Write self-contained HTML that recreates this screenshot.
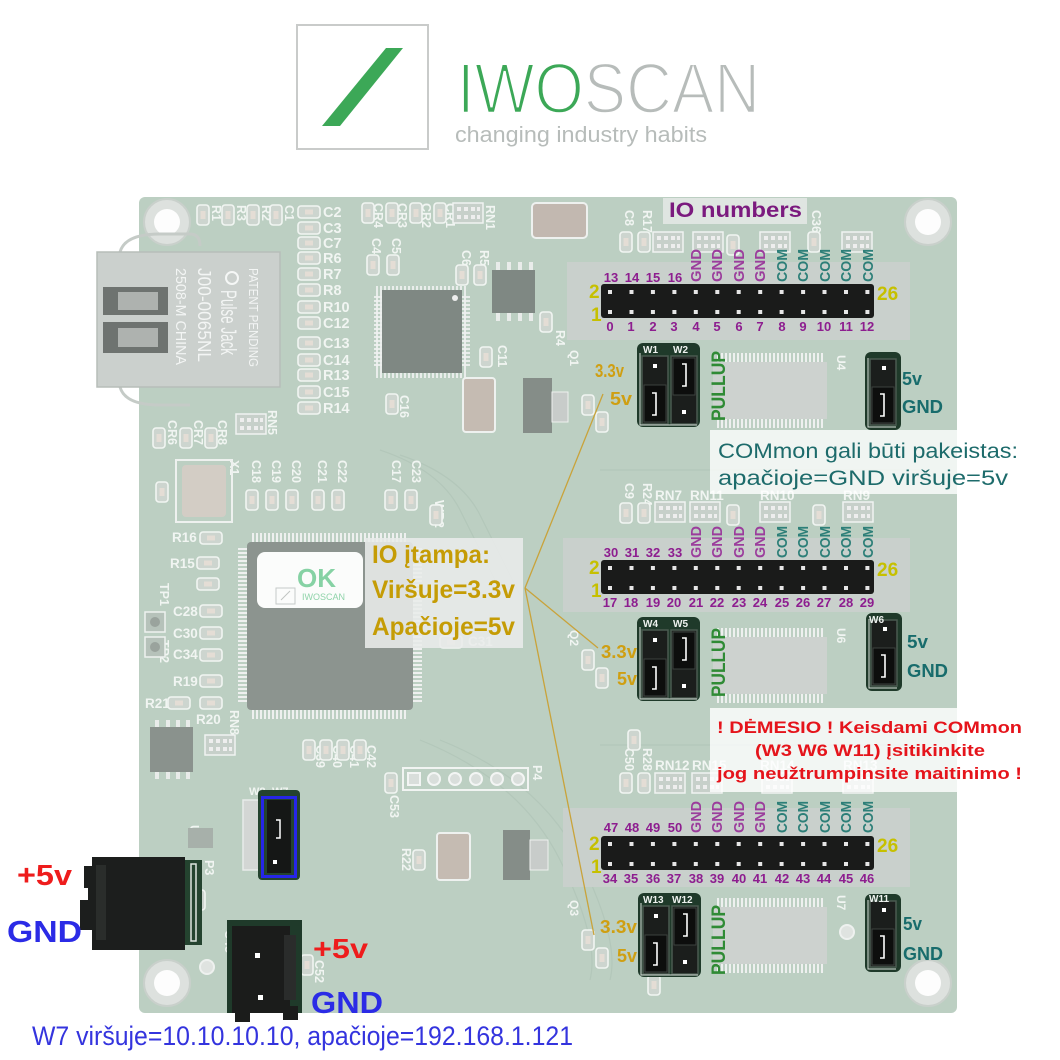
<!DOCTYPE html>
<html><head><meta charset="utf-8"><style>
html,body{margin:0;padding:0;background:#fff;width:1060px;height:1060px;overflow:hidden}
svg{display:block}
</style></head><body>
<svg width="1060" height="1060" viewBox="0 0 1060 1060" xmlns="http://www.w3.org/2000/svg" font-family="'Liberation Sans', Arial, sans-serif">
<defs>
  <pattern id="pv" width="4" height="10" patternUnits="userSpaceOnUse"><rect width="2" height="10" fill="#eef0ef"/></pattern>
  <pattern id="ph" width="10" height="4" patternUnits="userSpaceOnUse"><rect width="10" height="2" fill="#eef0ef"/></pattern>
  <g id="padv"><rect x="0" y="0" width="12" height="20" rx="3" fill="#cdd5cf" stroke="#f1f5f2" stroke-width="1.6"/><rect x="3.5" y="6" width="5" height="8" fill="#e4ddd5"/></g>
  <g id="padh"><rect x="0" y="0" width="22" height="12" rx="3" fill="#cdd5cf" stroke="#f1f5f2" stroke-width="1.6"/><rect x="7" y="3.5" width="8" height="5" fill="#e4ddd5"/></g>
  <g id="rn"><rect x="0" y="0" width="30" height="20" fill="#c7d0ca" stroke="#f0f3f1" stroke-width="1.5"/><rect x="4" y="4" width="4" height="4" fill="#eee"/><rect x="11" y="4" width="4" height="4" fill="#eee"/><rect x="18" y="4" width="4" height="4" fill="#eee"/><rect x="24" y="4" width="3" height="4" fill="#eee"/><rect x="4" y="12" width="4" height="4" fill="#eee"/><rect x="11" y="12" width="4" height="4" fill="#eee"/><rect x="18" y="12" width="4" height="4" fill="#eee"/><rect x="24" y="12" width="3" height="4" fill="#eee"/></g>
  <g id="hole"><circle r="23" fill="#dde1de" stroke="#c9d0cb" stroke-width="2"/><circle r="13" fill="#fdfdfd"/></g>
  <g id="jpair">
    <rect x="0" y="0" width="63" height="84" rx="6" fill="#1f3a2a"/>
    <rect x="5" y="13" width="26" height="68" fill="#1b1e1c" stroke="#4a5a50" stroke-width="1.5"/>
    <rect x="34" y="13" width="26" height="68" fill="#1b1e1c" stroke="#4a5a50" stroke-width="1.5"/>
    <rect x="16" y="21" width="4" height="4" fill="#fff"/>
    <rect x="7" y="42" width="22" height="37" fill="#0d0e0d" stroke="#3c423e"/>
    <path d="M15 50 h4 v22 h-4" fill="none" stroke="#fff" stroke-width="1.6"/>
    <rect x="36" y="15" width="22" height="37" fill="#0d0e0d" stroke="#3c423e"/>
    <path d="M45 21 h4 v22 h-4" fill="none" stroke="#fff" stroke-width="1.6"/>
    <rect x="45" y="67" width="4" height="4" fill="#fff"/>
    <path d="M3 10 v72 h57" fill="none" stroke="#d8e0da" stroke-width="1"/>
  </g>
  <g id="jsingle">
    <rect x="0" y="0" width="36" height="78" rx="6" fill="#1f3a2a"/>
    <rect x="5" y="7" width="26" height="66" fill="#1b1e1c" stroke="#4a5a50" stroke-width="1.5"/>
    <rect x="17" y="14" width="4" height="4" fill="#fff"/>
    <rect x="7" y="35" width="22" height="36" fill="#0d0e0d" stroke="#3c423e"/>
    <path d="M15 42 h4 v22 h-4" fill="none" stroke="#fff" stroke-width="1.6"/>
    <path d="M3 6 v69 h28" fill="none" stroke="#d8e0da" stroke-width="1"/>
  </g>
  <g id="hdr">
    <rect x="0" y="0" width="273" height="34" rx="3" fill="#1a1b1a"/>
    <g fill="#e6e6e6">
      <rect x="7" y="6" width="4" height="4"/><rect x="28.5" y="6" width="4" height="4"/><rect x="49.9" y="6" width="4" height="4"/><rect x="71.4" y="6" width="4" height="4"/><rect x="92.8" y="6" width="4" height="4"/><rect x="114.3" y="6" width="4" height="4"/><rect x="135.7" y="6" width="4" height="4"/><rect x="157.2" y="6" width="4" height="4"/><rect x="178.6" y="6" width="4" height="4"/><rect x="200.1" y="6" width="4" height="4"/><rect x="221.5" y="6" width="4" height="4"/><rect x="243" y="6" width="4" height="4"/><rect x="264.4" y="6" width="4" height="4"/>
      <rect x="7" y="26" width="4" height="4"/><rect x="28.5" y="26" width="4" height="4"/><rect x="49.9" y="26" width="4" height="4"/><rect x="71.4" y="26" width="4" height="4"/><rect x="92.8" y="26" width="4" height="4"/><rect x="114.3" y="26" width="4" height="4"/><rect x="135.7" y="26" width="4" height="4"/><rect x="157.2" y="26" width="4" height="4"/><rect x="178.6" y="26" width="4" height="4"/><rect x="200.1" y="26" width="4" height="4"/><rect x="221.5" y="26" width="4" height="4"/><rect x="243" y="26" width="4" height="4"/><rect x="264.4" y="26" width="4" height="4"/>
    </g>
  </g>
  <g id="tssop">
    <rect x="0" y="9" width="114" height="57" fill="#cdd2cf"/>
    <rect x="2" y="0" width="110" height="9" fill="url(#pv)"/>
    <rect x="2" y="66" width="110" height="9" fill="url(#pv)"/>
  </g>
</defs>

<!-- LOGO -->
<rect x="297" y="25" width="131" height="124" fill="#fff" stroke="#c9cbca" stroke-width="2"/>
<polygon points="386,48 403,48 340,126 322,126" fill="#3ca857"/>
<text x="457" y="113" font-size="71" textLength="303" lengthAdjust="spacingAndGlyphs" stroke="#fff" stroke-width="2.4"><tspan fill="#3ca857">IWO</tspan><tspan fill="#b7bcba">SCAN</tspan></text>
<text x="455" y="142" font-size="22" fill="#b7bcba" textLength="252" lengthAdjust="spacingAndGlyphs">changing industry habits</text>

<!-- BOARD -->
<rect x="139" y="197" width="818" height="816" rx="6" fill="#bccfc2"/>
<g fill="none" stroke="#b3c7ba" stroke-width="1.2">
  <path d="M380 450 q60 20 80 60 t40 80"/>
  <path d="M400 455 q60 20 80 60 t40 80"/>
  <path d="M420 740 q100 40 140 120 t30 120"/>
  <path d="M440 740 q100 40 140 120 t30 120"/>
  <path d="M600 470 h320"/><path d="M600 745 h320"/>
</g>

<use href="#hole" x="167" y="222"/>
<use href="#hole" x="928" y="222"/>
<use href="#hole" x="928" y="983"/>
<use href="#hole" x="167" y="983"/>
<circle cx="207" cy="967" r="7" fill="#dfe3e0" stroke="#eef1ef" stroke-width="2"/>
<circle cx="847" cy="932" r="7" fill="#dfe3e0" stroke="#eef1ef" stroke-width="2"/>

<!-- Ethernet jack -->
<path d="M120 252 q5 -18 40 -18 h30 q10 0 10 12" fill="none" stroke="#c5cbc7" stroke-width="3"/>
<path d="M120 387 q5 18 40 18 h30" fill="none" stroke="#c5cbc7" stroke-width="3"/>
<rect x="97" y="252" width="183" height="135" fill="#cbd0cd" stroke="#b7bdb9" stroke-width="1.5"/>
<rect x="103" y="287" width="65" height="28" fill="#6e7370"/>
<rect x="118" y="292" width="40" height="18" fill="#aeb2af"/>
<rect x="103" y="322" width="65" height="31" fill="#6e7370"/>
<rect x="118" y="328" width="40" height="19" fill="#aeb2af"/>
<circle cx="232" cy="278" r="6" fill="none" stroke="#f5f7f6" stroke-width="2"/>
<g fill="#f3f5f4">
<text transform="translate(249,268) rotate(90)" font-size="13" textLength="99" lengthAdjust="spacingAndGlyphs">PATENT PENDING</text>
<text transform="translate(221,290) rotate(90)" font-size="22" textLength="65" lengthAdjust="spacingAndGlyphs">Pulse Jack</text>
<text transform="translate(198,268) rotate(90)" font-size="18" textLength="94" lengthAdjust="spacingAndGlyphs">J00-0065NL</text>
<text transform="translate(176,268) rotate(90)" font-size="15" textLength="97" lengthAdjust="spacingAndGlyphs">2508-M CHINA</text>
</g>

<!-- silkscreen left column -->
<g>
<use href="#padh" x="298" y="206"/><use href="#padh" x="298" y="222"/><use href="#padh" x="298" y="237"/><use href="#padh" x="298" y="252"/><use href="#padh" x="298" y="268"/><use href="#padh" x="298" y="284"/><use href="#padh" x="298" y="301"/><use href="#padh" x="298" y="317"/><use href="#padh" x="298" y="337"/><use href="#padh" x="298" y="354"/><use href="#padh" x="298" y="369"/><use href="#padh" x="298" y="386"/><use href="#padh" x="298" y="402"/>
</g>
<g fill="#f1f5f2" font-size="14.5" font-weight="bold">
<text x="323" y="217">C2</text><text x="323" y="233">C3</text><text x="323" y="248">C7</text><text x="323" y="263">R6</text><text x="323" y="279">R7</text><text x="323" y="295">R8</text><text x="323" y="312">R10</text><text x="323" y="328">C12</text><text x="323" y="348">C13</text><text x="323" y="365">C14</text><text x="323" y="380">R13</text><text x="323" y="397">C15</text><text x="323" y="413">R14</text>
</g>
<use href="#padv" x="197" y="205"/><use href="#padv" x="222" y="205"/><use href="#padv" x="247" y="205"/><use href="#padv" x="270" y="205"/>
<g fill="#f1f5f2" font-size="12.5" font-weight="bold">
<text transform="translate(212,205) rotate(90)">R1</text><text transform="translate(237,205) rotate(90)">R3</text><text transform="translate(262,205) rotate(90)">R2</text><text transform="translate(285,205) rotate(90)">C1</text>
<text transform="translate(374,203) rotate(90)">CR4</text><text transform="translate(398,203) rotate(90)">CR3</text><text transform="translate(422,203) rotate(90)">CR2</text><text transform="translate(446,203) rotate(90)">CR1</text>
<text transform="translate(486,205) rotate(90)">RN1</text>
<text transform="translate(372,238) rotate(90)">C4</text><text transform="translate(392,238) rotate(90)">C5</text>
<text transform="translate(462,250) rotate(90)">C6</text><text transform="translate(480,250) rotate(90)">R5</text>
<text transform="translate(556,330) rotate(90)">R4</text><text transform="translate(498,345) rotate(90)">C11</text>
<text transform="translate(400,395) rotate(90)">C16</text>
<text transform="translate(268,410) rotate(90)">RN5</text>
<text transform="translate(168,420) rotate(90)">CR6</text><text transform="translate(194,420) rotate(90)">CR7</text><text transform="translate(218,420) rotate(90)">CR8</text>
<text transform="translate(230,460) rotate(90)">X1</text>
<text transform="translate(252,460) rotate(90)">C18</text><text transform="translate(272,460) rotate(90)">C19</text><text transform="translate(292,460) rotate(90)">C20</text><text transform="translate(318,460) rotate(90)">C21</text><text transform="translate(338,460) rotate(90)">C22</text>
<text transform="translate(392,460) rotate(90)">C17</text><text transform="translate(412,460) rotate(90)">C23</text>
<text transform="translate(625,210) rotate(90)">C8</text><text transform="translate(643,210) rotate(90)">R17</text><text transform="translate(812,210) rotate(90)">C36</text>
<text transform="translate(625,483) rotate(90)">C9</text><text transform="translate(643,483) rotate(90)">R24</text>
<text transform="translate(625,748) rotate(90)">C50</text><text transform="translate(643,748) rotate(90)">R28</text>
<text transform="translate(435,500) rotate(90)">WR2</text>
<text transform="translate(225,930) rotate(90)">C45</text><text transform="translate(205,860) rotate(90)">P3</text><text transform="translate(290,920) rotate(90)">P5</text><text transform="translate(315,960) rotate(90)">C52</text>
<text transform="translate(316,745) rotate(90)">C39</text><text transform="translate(333,745) rotate(90)">C40</text><text transform="translate(350,745) rotate(90)">C41</text><text transform="translate(367,745) rotate(90)">C42</text>
<text transform="translate(390,795) rotate(90)">C53</text><text transform="translate(402,848) rotate(90)">R22</text><text transform="translate(533,765) rotate(90)">P4</text>
<text transform="translate(160,583) rotate(90)">TP1</text><text transform="translate(160,640) rotate(90)">TP2</text>
<text transform="translate(230,710) rotate(90)">RN8</text><text transform="translate(190,825) rotate(90)">U8</text>
</g>
<g fill="#f1f5f2" font-size="13.5" font-weight="bold">
<text x="172" y="542">R16</text><text x="170" y="568">R15</text><text x="173" y="616">C28</text><text x="173" y="638">C30</text><text x="173" y="659">C34</text><text x="173" y="686">R19</text><text x="145" y="708">R21</text><text x="196" y="724">R20</text>
<text x="468" y="646">C31</text>
<text x="655" y="500">RN7</text><text x="690" y="500">RN11</text><text x="760" y="500">RN10</text><text x="843" y="500">RN9</text>
<text x="655" y="770">RN12</text><text x="692" y="770">RN15</text><text x="760" y="770">RN14</text><text x="843" y="770">RN13</text>
<text x="249" y="795" font-size="11">W8</text><text x="272" y="795" font-size="11">W7</text>
</g>
<g>
<use href="#padv" x="367" y="255"/><use href="#padv" x="387" y="255"/><use href="#padv" x="456" y="265"/><use href="#padv" x="474" y="265"/>
<use href="#padv" x="362" y="203"/><use href="#padv" x="386" y="203"/><use href="#padv" x="410" y="203"/><use href="#padv" x="434" y="203"/>
<use href="#rn" x="453" y="203"/>
<use href="#padv" x="540" y="312"/><use href="#padv" x="480" y="347"/><use href="#padv" x="386" y="394"/>
<use href="#rn" x="236" y="414"/>
<use href="#padv" x="153" y="428"/><use href="#padv" x="180" y="428"/><use href="#padv" x="205" y="428"/>
<use href="#padv" x="246" y="490"/><use href="#padv" x="266" y="490"/><use href="#padv" x="286" y="490"/><use href="#padv" x="312" y="490"/><use href="#padv" x="332" y="490"/><use href="#padv" x="385" y="490"/><use href="#padv" x="405" y="490"/>
<use href="#padv" x="430" y="505"/>
<use href="#padv" x="156" y="482"/>
<use href="#padh" x="200" y="532"/><use href="#padh" x="197" y="557"/><use href="#padh" x="197" y="578"/><use href="#padh" x="200" y="605"/><use href="#padh" x="200" y="627"/><use href="#padh" x="200" y="649"/><use href="#padh" x="200" y="675"/><use href="#padh" x="168" y="697"/><use href="#padh" x="200" y="697"/>
<use href="#padh" x="440" y="636"/>
<use href="#padv" x="620" y="232"/><use href="#padv" x="638" y="232"/><use href="#rn" x="653" y="232"/><use href="#rn" x="693" y="232"/><use href="#padv" x="727" y="235"/><use href="#rn" x="760" y="232"/><use href="#padv" x="808" y="232"/><use href="#rn" x="842" y="232"/>
<use href="#padv" x="620" y="503"/><use href="#padv" x="638" y="503"/><use href="#rn" x="655" y="502"/><use href="#rn" x="690" y="502"/><use href="#padv" x="727" y="505"/><use href="#rn" x="760" y="502"/><use href="#padv" x="813" y="505"/><use href="#rn" x="843" y="502"/>
<use href="#padv" x="620" y="773"/><use href="#padv" x="638" y="773"/><use href="#rn" x="655" y="773"/><use href="#rn" x="692" y="773"/><use href="#rn" x="762" y="773"/><use href="#rn" x="843" y="773"/>
<use href="#padv" x="303" y="740"/><use href="#padv" x="320" y="740"/><use href="#padv" x="337" y="740"/><use href="#padv" x="354" y="740"/>
<use href="#padv" x="385" y="773"/><use href="#padv" x="413" y="850"/>
<use href="#padv" x="193" y="890"/><use href="#padv" x="301" y="955"/>
<use href="#rn" x="205" y="735"/>
<use href="#padv" x="582" y="395"/><use href="#padv" x="596" y="412"/><use href="#padv" x="582" y="650"/><use href="#padv" x="596" y="668"/><use href="#padv" x="582" y="930"/><use href="#padv" x="596" y="948"/>
<use href="#padv" x="648" y="975"/><use href="#padv" x="628" y="730"/>
</g>
<rect x="145" y="612" width="20" height="20" fill="#b6c2ba" stroke="#eef2ef" stroke-width="1.5"/><circle cx="155" cy="622" r="5" fill="#9aa39d"/>
<rect x="145" y="637" width="20" height="20" fill="#b6c2ba" stroke="#eef2ef" stroke-width="1.5"/><circle cx="155" cy="647" r="5" fill="#9aa39d"/>

<!-- small ICs -->
<rect x="376" y="286" width="92" height="92" fill="url(#pv)" opacity="0.9"/>
<rect x="382" y="290" width="80" height="83" fill="#7f8883"/>
<rect x="374" y="296" width="96" height="72" fill="url(#ph)" opacity="0.9"/>
<rect x="382" y="294" width="80" height="76" fill="#7f8883"/>
<circle cx="455" cy="298" r="3" fill="#eee"/>
<rect x="492" y="270" width="43" height="43" fill="#7f8883"/>
<g fill="#e9ecea"><rect x="496" y="262" width="4" height="8"/><rect x="507" y="262" width="4" height="8"/><rect x="518" y="262" width="4" height="8"/><rect x="529" y="262" width="4" height="8"/><rect x="496" y="313" width="4" height="8"/><rect x="507" y="313" width="4" height="8"/><rect x="518" y="313" width="4" height="8"/><rect x="529" y="313" width="4" height="8"/></g>
<rect x="532" y="203" width="55" height="35" rx="4" fill="#c2b8b0" stroke="#eef1ef" stroke-width="2"/>
<rect x="463" y="378" width="32" height="54" rx="3" fill="#c5bbb2" stroke="#eef1ef" stroke-width="2"/>
<rect x="523" y="378" width="29" height="55" fill="#858d88"/>
<rect x="552" y="392" width="16" height="30" fill="#c8ccca" stroke="#eef1ef"/>
<rect x="437" y="833" width="33" height="47" rx="3" fill="#c5bbb2" stroke="#eef1ef" stroke-width="2"/>
<rect x="503" y="830" width="27" height="50" fill="#858d88"/>
<rect x="530" y="840" width="18" height="30" fill="#c8ccca" stroke="#eef1ef"/>
<!-- crystal -->
<rect x="176" y="460" width="56" height="62" fill="none" stroke="#eef1ef" stroke-width="2"/>
<rect x="182" y="465" width="44" height="52" rx="4" fill="#d3cdc5"/>
<!-- big QFP -->
<rect x="252" y="533" width="156" height="186" fill="url(#pv)"/>
<rect x="238" y="548" width="184" height="156" fill="url(#ph)"/>
<rect x="247" y="542" width="166" height="168" rx="4" fill="#8c948f"/>
<rect x="257" y="552" width="106" height="56" rx="8" fill="#fbfcfb"/>
<text x="297" y="587" font-size="26" font-weight="bold" fill="#86d2a4">OK</text>
<rect x="276" y="588" width="19" height="16" fill="none" stroke="#c6cac8" stroke-width="1"/>
<line x1="281" y1="600" x2="290" y2="591" stroke="#bfc4c1"/>
<text x="302" y="600" font-size="9" fill="#8ed3a9">IWOSCAN</text>
<rect x="150" y="727" width="43" height="45" fill="#8a928d"/>
<g fill="#e9ecea"><rect x="155" y="720" width="4" height="7"/><rect x="166" y="720" width="4" height="7"/><rect x="176" y="720" width="4" height="7"/><rect x="186" y="720" width="4" height="7"/><rect x="155" y="772" width="4" height="7"/><rect x="166" y="772" width="4" height="7"/><rect x="176" y="772" width="4" height="7"/><rect x="186" y="772" width="4" height="7"/></g>
<rect x="403" y="768" width="125" height="22" fill="none" stroke="#f1f4f2" stroke-width="2"/>
<g fill="#d9dedb" stroke="#f3f5f4" stroke-width="2"><rect x="408" y="773" width="12" height="12"/><circle cx="434" cy="779" r="6"/><circle cx="455" cy="779" r="6"/><circle cx="476" cy="779" r="6"/><circle cx="497" cy="779" r="6"/><circle cx="518" cy="779" r="6"/></g>
<rect x="188" y="828" width="25" height="20" fill="#a7b0aa"/>

<!-- header backdrops -->
<rect x="567" y="262" width="343" height="78" fill="#c9d0cc"/>
<rect x="563" y="538" width="347" height="74" fill="#c9d0cc"/>
<rect x="563" y="808" width="347" height="79" fill="#c9d0cc"/>

<use href="#tssop" x="713" y="353"/>
<use href="#tssop" x="713" y="628"/>
<use href="#tssop" x="713" y="898"/>
<g fill="#f1f5f2" font-size="12" font-weight="bold">
<text transform="translate(837,355) rotate(90)">U4</text><text transform="translate(837,628) rotate(90)">U6</text><text transform="translate(837,895) rotate(90)">U7</text>
<text transform="translate(570,350) rotate(90)">Q1</text><text transform="translate(570,630) rotate(90)">Q2</text><text transform="translate(570,900) rotate(90)">Q3</text>
</g>

<use href="#hdr" x="601" y="284"/>
<use href="#hdr" x="601" y="560"/>
<use href="#hdr" x="601" y="836"/>

<g font-weight="bold" fill="#c6c000" font-size="19">
<text x="589" y="298">2</text><text x="591" y="321">1</text><text x="877" y="300">26</text>
<text x="589" y="574">2</text><text x="591" y="597">1</text><text x="877" y="576">26</text>
<text x="589" y="850">2</text><text x="591" y="873">1</text><text x="877" y="852">26</text>
</g>
<g font-weight="bold" fill="#8d1d8f" font-size="13" text-anchor="middle">
<text x="611" y="282">13</text><text x="632" y="282">14</text><text x="653" y="282">15</text><text x="675" y="282">16</text>
<text x="610" y="331">0</text><text x="631" y="331">1</text><text x="653" y="331">2</text><text x="674" y="331">3</text><text x="696" y="331">4</text><text x="717" y="331">5</text><text x="739" y="331">6</text><text x="760" y="331">7</text><text x="782" y="331">8</text><text x="803" y="331">9</text><text x="824" y="331">10</text><text x="846" y="331">11</text><text x="867" y="331">12</text>
<text x="611" y="557">30</text><text x="632" y="557">31</text><text x="653" y="557">32</text><text x="675" y="557">33</text>
<text x="610" y="607">17</text><text x="631" y="607">18</text><text x="653" y="607">19</text><text x="674" y="607">20</text><text x="696" y="607">21</text><text x="717" y="607">22</text><text x="739" y="607">23</text><text x="760" y="607">24</text><text x="782" y="607">25</text><text x="803" y="607">26</text><text x="824" y="607">27</text><text x="846" y="607">28</text><text x="867" y="607">29</text>
<text x="611" y="832">47</text><text x="632" y="832">48</text><text x="653" y="832">49</text><text x="675" y="832">50</text>
<text x="610" y="883">34</text><text x="631" y="883">35</text><text x="653" y="883">36</text><text x="674" y="883">37</text><text x="696" y="883">38</text><text x="717" y="883">39</text><text x="739" y="883">40</text><text x="760" y="883">41</text><text x="782" y="883">42</text><text x="803" y="883">43</text><text x="824" y="883">44</text><text x="846" y="883">45</text><text x="867" y="883">46</text>
</g>
<g font-weight="bold" font-size="14.5">
<g fill="#9b3d9c">
<text transform="translate(701,282) rotate(-90)" textLength="33" lengthAdjust="spacingAndGlyphs">GND</text><text transform="translate(722,282) rotate(-90)" textLength="33" lengthAdjust="spacingAndGlyphs">GND</text><text transform="translate(744,282) rotate(-90)" textLength="33" lengthAdjust="spacingAndGlyphs">GND</text><text transform="translate(765,282) rotate(-90)" textLength="33" lengthAdjust="spacingAndGlyphs">GND</text>
<text transform="translate(701,558) rotate(-90)" textLength="32" lengthAdjust="spacingAndGlyphs">GND</text><text transform="translate(722,558) rotate(-90)" textLength="32" lengthAdjust="spacingAndGlyphs">GND</text><text transform="translate(744,558) rotate(-90)" textLength="32" lengthAdjust="spacingAndGlyphs">GND</text><text transform="translate(765,558) rotate(-90)" textLength="32" lengthAdjust="spacingAndGlyphs">GND</text>
<text transform="translate(701,833) rotate(-90)" textLength="32" lengthAdjust="spacingAndGlyphs">GND</text><text transform="translate(722,833) rotate(-90)" textLength="32" lengthAdjust="spacingAndGlyphs">GND</text><text transform="translate(744,833) rotate(-90)" textLength="32" lengthAdjust="spacingAndGlyphs">GND</text><text transform="translate(765,833) rotate(-90)" textLength="32" lengthAdjust="spacingAndGlyphs">GND</text>
</g>
<g fill="#2d7f78">
<text transform="translate(787,282) rotate(-90)" textLength="33" lengthAdjust="spacingAndGlyphs">COM</text><text transform="translate(808,282) rotate(-90)" textLength="33" lengthAdjust="spacingAndGlyphs">COM</text><text transform="translate(830,282) rotate(-90)" textLength="33" lengthAdjust="spacingAndGlyphs">COM</text><text transform="translate(851,282) rotate(-90)" textLength="33" lengthAdjust="spacingAndGlyphs">COM</text><text transform="translate(873,282) rotate(-90)" textLength="33" lengthAdjust="spacingAndGlyphs">COM</text>
<text transform="translate(787,558) rotate(-90)" textLength="32" lengthAdjust="spacingAndGlyphs">COM</text><text transform="translate(808,558) rotate(-90)" textLength="32" lengthAdjust="spacingAndGlyphs">COM</text><text transform="translate(830,558) rotate(-90)" textLength="32" lengthAdjust="spacingAndGlyphs">COM</text><text transform="translate(851,558) rotate(-90)" textLength="32" lengthAdjust="spacingAndGlyphs">COM</text><text transform="translate(873,558) rotate(-90)" textLength="32" lengthAdjust="spacingAndGlyphs">COM</text>
<text transform="translate(787,833) rotate(-90)" textLength="32" lengthAdjust="spacingAndGlyphs">COM</text><text transform="translate(808,833) rotate(-90)" textLength="32" lengthAdjust="spacingAndGlyphs">COM</text><text transform="translate(830,833) rotate(-90)" textLength="32" lengthAdjust="spacingAndGlyphs">COM</text><text transform="translate(851,833) rotate(-90)" textLength="32" lengthAdjust="spacingAndGlyphs">COM</text><text transform="translate(873,833) rotate(-90)" textLength="32" lengthAdjust="spacingAndGlyphs">COM</text>
</g>
</g>

<rect x="663" y="198" width="144" height="26" fill="#dfe5e1"/>
<text x="669" y="217" font-size="21" font-weight="bold" fill="#7b1a7e" textLength="133" lengthAdjust="spacingAndGlyphs">IO numbers</text>

<use href="#jpair" x="637" y="343"/>
<use href="#jsingle" x="865" y="352"/>
<use href="#jpair" x="637" y="617"/>
<use href="#jsingle" x="866" y="613"/>
<use href="#jpair" x="638" y="893"/>
<use href="#jsingle" x="865" y="894"/>
<g fill="#eef2ef" font-size="10" font-weight="bold">
<text x="643" y="353">W1</text><text x="673" y="353">W2</text>
<text x="643" y="627">W4</text><text x="673" y="627">W5</text>
<text x="643" y="903">W13</text><text x="672" y="903">W12</text>
<text x="869" y="623">W6</text><text x="869" y="902">W11</text>
</g>
<g font-weight="bold">
<g fill="#cf9f12" font-size="18">
<text x="595" y="377" textLength="29" lengthAdjust="spacingAndGlyphs">3.3v</text><text x="610" y="405" textLength="22" lengthAdjust="spacingAndGlyphs">5v</text>
<text x="601" y="658" textLength="36" lengthAdjust="spacingAndGlyphs">3.3v</text><text x="617" y="685" textLength="20" lengthAdjust="spacingAndGlyphs">5v</text>
<text x="600" y="933" textLength="37" lengthAdjust="spacingAndGlyphs">3.3v</text><text x="617" y="962" textLength="20" lengthAdjust="spacingAndGlyphs">5v</text>
</g>
<g fill="#2f8b35" font-size="19">
<text transform="translate(725,421) rotate(-90)" textLength="70" lengthAdjust="spacingAndGlyphs">PULLUP</text>
<text transform="translate(725,697) rotate(-90)" textLength="69" lengthAdjust="spacingAndGlyphs">PULLUP</text>
<text transform="translate(725,975) rotate(-90)" textLength="70" lengthAdjust="spacingAndGlyphs">PULLUP</text>
</g>
<g fill="#186c6c" font-size="18">
<text x="902" y="385" textLength="20" lengthAdjust="spacingAndGlyphs">5v</text><text x="902" y="413" textLength="41" lengthAdjust="spacingAndGlyphs">GND</text>
<text x="907" y="648" textLength="21" lengthAdjust="spacingAndGlyphs">5v</text><text x="907" y="677" textLength="41" lengthAdjust="spacingAndGlyphs">GND</text>
<text x="903" y="930" textLength="19" lengthAdjust="spacingAndGlyphs">5v</text><text x="903" y="960" textLength="40" lengthAdjust="spacingAndGlyphs">GND</text>
</g>
</g>

<rect x="710" y="430" width="315" height="64" fill="#ffffff" opacity="0.78"/>
<g fill="#1d6b6b" font-size="21">
<text x="718" y="458" textLength="300" lengthAdjust="spacingAndGlyphs">COMmon gali būti pakeistas:</text>
<text x="718" y="485" textLength="290" lengthAdjust="spacingAndGlyphs">apačioje=GND viršuje=5v</text>
</g>

<rect x="710" y="708" width="318" height="84" fill="#ffffff" opacity="0.8"/>
<g fill="#e5141b" font-size="17" font-weight="bold">
<text x="717" y="733" textLength="305" lengthAdjust="spacingAndGlyphs">! DĖMESIO ! Keisdami COMmon</text>
<text x="755" y="756" textLength="230" lengthAdjust="spacingAndGlyphs">(W3 W6 W11) įsitikinkite</text>
<text x="717" y="779" textLength="305" lengthAdjust="spacingAndGlyphs">jog neužtrumpinsite maitinimo !</text>
</g>

<rect x="365" y="538" width="158" height="110" fill="#e9ecea" opacity="0.88"/>
<g fill="#c59c05" font-size="25" font-weight="bold">
<text x="372" y="563" textLength="118" lengthAdjust="spacingAndGlyphs">IO įtampa:</text>
<text x="372" y="598" textLength="143" lengthAdjust="spacingAndGlyphs">Viršuje=3.3v</text>
<text x="372" y="635" textLength="143" lengthAdjust="spacingAndGlyphs">Apačioje=5v</text>
</g>
<g stroke="#c9a33a" stroke-width="1.3" fill="none">
<line x1="525" y1="588" x2="603" y2="394"/>
<line x1="525" y1="588" x2="598" y2="648"/>
<line x1="525" y1="588" x2="594" y2="935"/>
</g>

<rect x="243" y="800" width="19" height="70" fill="#d3d6d4" stroke="#e8ebe9" stroke-width="1.5"/>
<rect x="258" y="790" width="42" height="90" rx="4" fill="#24432f"/>
<rect x="267" y="800" width="24" height="73" fill="#151716"/>
<rect x="262.5" y="797.5" width="33" height="79" fill="none" stroke="#2626e8" stroke-width="3"/>
<path d="M276 820 h4 v18 h-4" fill="none" stroke="#fff" stroke-width="1.5"/>
<rect x="273" y="860" width="4" height="4" fill="#fff"/>

<rect x="185" y="860" width="17" height="85" fill="#24432f"/>
<rect x="191" y="864" width="5" height="77" fill="none" stroke="#dfe6e1" stroke-width="1.5"/>
<path d="M92 857 H185 V950 H92 V930 H80 V900 H88 V888 H84 V866 H92 Z" fill="#1c1e1d"/>
<rect x="96" y="865" width="10" height="75" fill="#2a2d2b"/>
<rect x="227" y="920" width="75" height="93" fill="#1f3a2a"/>
<rect x="232" y="926" width="58" height="87" fill="#1b1c1b"/>
<rect x="235" y="1008" width="15" height="14" fill="#1b1c1b"/>
<rect x="283" y="1006" width="15" height="14" fill="#1b1c1b"/>
<rect x="284" y="935" width="12" height="65" fill="#2a2c2b"/>
<rect x="255" y="953" width="5" height="5" fill="#fff"/>
<rect x="258" y="995" width="5" height="5" fill="#fff"/>

<g font-weight="bold">
<text x="17" y="885" font-size="29" fill="#ee1c1c" textLength="55" lengthAdjust="spacingAndGlyphs">+5v</text>
<text x="7" y="942" font-size="31" fill="#2b2be6" textLength="75" lengthAdjust="spacingAndGlyphs">GND</text>
<text x="313" y="958" font-size="28" fill="#ee1c1c" textLength="55" lengthAdjust="spacingAndGlyphs">+5v</text>
<text x="311" y="1013" font-size="31" fill="#2b2be6" textLength="72" lengthAdjust="spacingAndGlyphs">GND</text>
</g>
<text x="32" y="1045" font-size="27" fill="#3434de" textLength="541" lengthAdjust="spacingAndGlyphs">W7 viršuje=10.10.10.10, apačioje=192.168.1.121</text>
</svg>
</body></html>
